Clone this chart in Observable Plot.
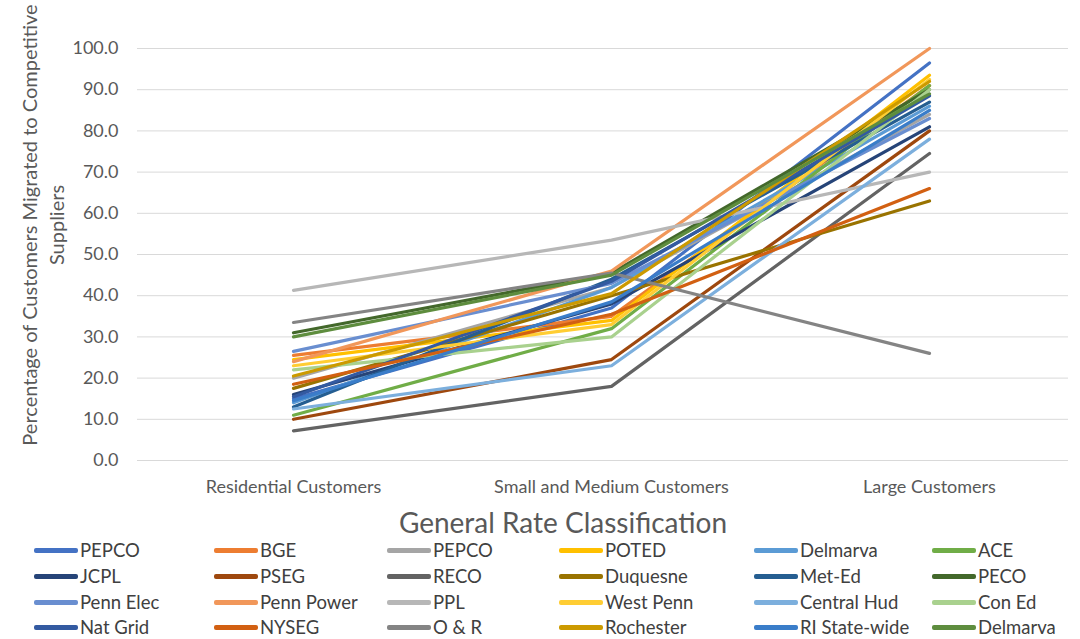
<!DOCTYPE html>
<html>
<head>
<meta charset="utf-8">
<script src="https://cdn.jsdelivr.net/npm/d3@7"></script>
<script src="https://cdn.jsdelivr.net/npm/@observablehq/plot@0.6"></script>
<style>
  html, body { margin: 0; padding: 0; background: #fff; }
  #wrap { position: relative; width: 1080px; height: 639px; overflow: hidden; font-family: Lato, "Open Sans", sans-serif; }
  #legend { position: absolute; left: 0; top: 0; width: 1080px; height: 639px; pointer-events: none; }
  .item { position: absolute; display: flex; align-items: center; font-size: 18.5px; line-height: 20px; color: #404040; white-space: nowrap; transform: translateY(-50%); }
  .sw { width: 44px; height: 5px; margin-right: 2px; border-radius: 2px; }
</style>
</head>
<body>
<div id="wrap"><div id="chart"></div><div id="legend"></div></div>
<script>
const categories = ["Residential Customers", "Small and Medium Customers", "Large Customers"];
const seriesNames = ["PEPCO", "BGE", "PEPCO ", "POTED", "Delmarva", "ACE",
  "JCPL", "PSEG", "RECO", "Duquesne", "Met-Ed", "PECO",
  "Penn Elec", "Penn Power", "PPL", "West Penn", "Central Hud", "Con Ed",
  "Nat Grid", "NYSEG", "O & R", "Rochester", "RI State-wide", "Delmarva "];
const seriesColors = ["#4472C4", "#ED7D31", "#A5A5A5", "#FFC000", "#5B9BD5", "#70AD47",
  "#264478", "#9E480E", "#636363", "#997300", "#255E91", "#43682B",
  "#698ED0", "#F1975A", "#B7B7B7", "#FFCD33", "#7CAFDD", "#A9D18E",
  "#335AA1", "#D26012", "#848484", "#CC9A00", "#3A7DC9", "#5E8D3E"];
const residential = [15, 25.5, 20, 24.5, 14, 11, 16, 10, 7.2, 17.5, 13, 31, 26.5, 24, 41.3, 23, 12.5, 22, 15.5, 18.5, 33.5, 20.5, 14.5, 30];
const smallMedium = [37, 35, 42, 34, 42, 32, 38, 24.5, 18, 40, 44, 45.5, 43, 46, 53.5, 33, 23, 30, 43.5, 35.5, 45.5, 40.5, 38.5, 45];
const large = [96.5, 91, 84, 93.5, 86, 91, 81, 80, 74.5, 63, 87, 90, 83, 100, 70, 92.5, 78, 90, 88.5, 66, 26, 92, 85, 89];
const yTicks = [0, 10, 20, 30, 40, 50, 60, 70, 80, 90, 100];

const rows = [];
seriesNames.forEach((s, i) => {
  [residential[i], smallMedium[i], large[i]].forEach((v, j) => rows.push({series: s, cat: categories[j], value: v, idx: i}));
});

const W = 1080, H = 639;
const chart = Plot.plot({
  width: W, height: H,
  marginLeft: 137, marginRight: 12, marginTop: 48, marginBottom: 179,
  style: {fontFamily: "Lato, 'Open Sans', sans-serif", fontSize: "18px", color: "#595959", background: "#fff"},
  x: {type: "point", domain: categories, range: [293, 929], padding: 0},
  y: {domain: [0, 100], ticks: yTicks},
  color: {domain: seriesNames, range: seriesColors},
  marks: [
    Plot.gridY(yTicks, {stroke: "#D9D9D9", strokeOpacity: 1, strokeWidth: 1}),
    Plot.axisY(yTicks, {tickSize: 0, tickPadding: 19, tickFormat: d => d.toFixed(1), label: null, fontSize: 18, fill: "#595959"}),
    Plot.axisX({tickSize: 0, tickPadding: 20, label: null, fontSize: 18, fill: "#595959"}),
    Plot.line(rows, {x: "cat", y: "value", z: "series", stroke: "series", strokeWidth: 3.2, strokeLinecap: "round", strokeLinejoin: "round"})
  ]
});
document.getElementById("chart").appendChild(chart);

const svg = d3.select(chart);
const yl = svg.append("text")
  .attr("transform", "translate(30,225) rotate(-90)")
  .attr("text-anchor", "middle")
  .style("font-size", "20px").style("fill", "#595959");
yl.append("tspan").attr("x", 0).attr("dy", "0.35em").text("Percentage of Customers Migrated to Competitive");
yl.append("tspan").attr("x", 0).attr("dy", "1.35em").text("Suppliers");
svg.append("text")
  .attr("x", 563).attr("y", 522)
  .attr("text-anchor", "middle").attr("dominant-baseline", "central")
  .style("font-size", "28px").style("fill", "#595959")
  .text("General Rate Classification");

// legend
const colText = [80, 260, 433, 605, 800, 978];
const rowY = [550, 576, 602, 627];
const leg = document.getElementById("legend");
seriesNames.forEach((s, i) => {
  const r = Math.floor(i / 6), c = i % 6;
  const d = document.createElement("div");
  d.className = "item";
  d.style.left = (colText[c] - 46) + "px";
  d.style.top = rowY[r] + "px";
  const sw = document.createElement("span");
  sw.className = "sw";
  sw.style.background = seriesColors[i];
  const t = document.createElement("span");
  t.textContent = s.trim();
  d.appendChild(sw); d.appendChild(t);
  leg.appendChild(d);
});
</script>
</body>
</html>
